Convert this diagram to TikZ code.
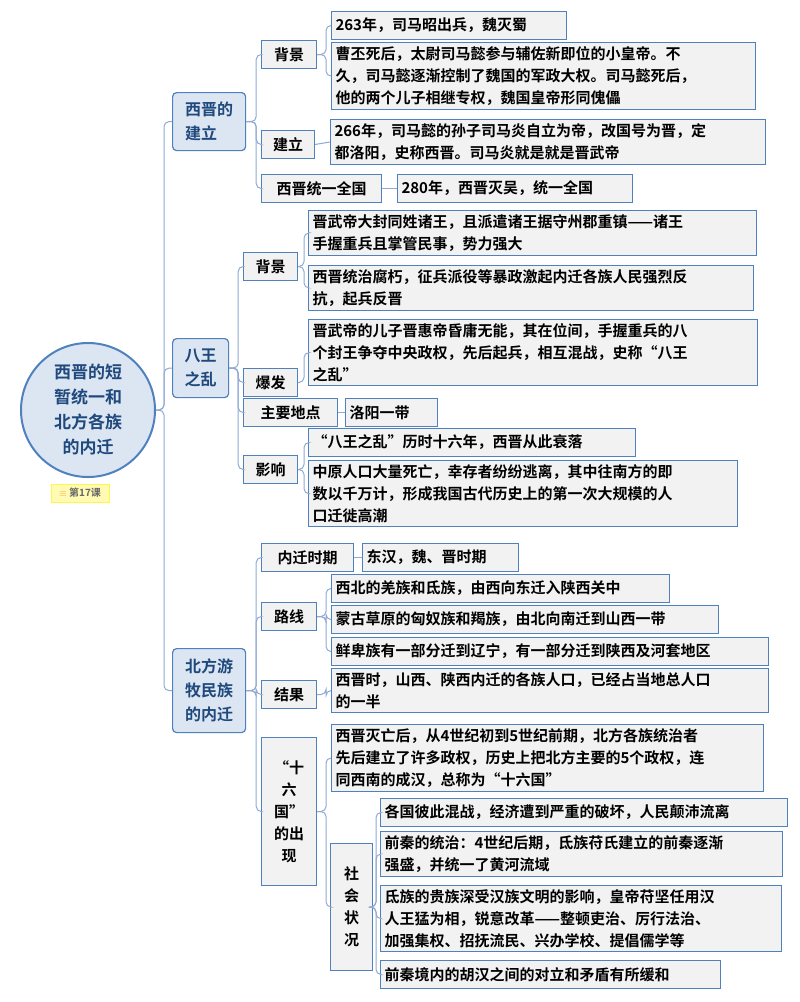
\documentclass[tikz,border=0pt]{standalone}
\usepackage{fontspec}
\setmainfont{Noto Sans CJK SC Bold}
\usetikzlibrary{positioning,shapes}
\definecolor{edgeblue}{HTML}{4F81BD}
\definecolor{linkblue}{HTML}{8FA9D3}
\definecolor{topicfill}{HTML}{DCE6F2}
\definecolor{topictext}{HTML}{1F497D}
\definecolor{leaffill}{HTML}{F2F2F2}
\begin{document}
\begin{tikzpicture}
	[ x=1pt, y=-1pt, font=\fontsize{15}{22}\selectfont,
		root/.style={circle,draw=edgeblue,line width=2pt,fill=topicfill,text=topictext,minimum size=134pt,align=center,inner sep=0pt,font=\fontsize{17}{25}\selectfont},
		main/.style={rectangle,rounded corners=4pt,draw=edgeblue,line width=1.2pt,fill=topicfill,text=topictext,anchor=north west,align=left,inner sep=4pt,font=\fontsize{16}{24}\selectfont},
		sub/.style={rectangle,draw=edgeblue,line width=1pt,fill=leaffill,anchor=north west,minimum height=28pt,align=center,inner sep=3pt},
		leaf/.style={rectangle,draw=edgeblue,line width=1pt,fill=leaffill,anchor=north west,minimum height=28pt,align=left,inner sep=4pt},
		branch/.style={draw=linkblue,line width=1pt,rounded corners=5pt}]
	\useasboundingbox (0,0) rectangle (800,1002);

	\node[root] (root) at (88,410) {西晋的短\\暂统一和\\北方各族\\的内迁};
	\node[fill=yellow!30,draw=yellow!70,font=\fontsize{10}{12}\selectfont\color{black!60},minimum width=58pt,minimum height=18pt,inner sep=2pt] (tag) at (80,493) {\textcolor{orange!80}{$\equiv$}\ 第17课};

	% main topics
	\node[main,minimum width=73pt,minimum height=58pt] (xijin) at (172,92) {西晋的\\建立};
	\node[main,minimum width=56pt,minimum height=59pt] (bawang) at (172,338) {八王\\之乱};
	\node[main,minimum width=73pt,minimum height=84pt] (beifang) at (172,648) {北方游\\牧民族\\的内迁};
	\foreach \t in {xijin,bawang,beifang}
		\draw[branch] (root.east) -- ++(8,0) |- (\t.west);

	% 西晋的建立
	\node[sub,minimum width=55pt] (xbj) at (261,40) {背景};
	\node[sub,minimum width=53pt] (xjl) at (261,130) {建立};
	\node[sub,minimum width=120pt] (xty) at (261,174) {西晋统一全国};
	\foreach \t in {xbj,xjl,xty}
		\draw[branch] (xijin.east) -- ++(10,0) |- (\t.west);
	\node[leaf,text width=227pt] (xbj1) at (331,11) {263年，司马昭出兵，魏灭蜀};
	\node[leaf,text width=416pt] (xbj2) at (331,42) {曹丕死后，太尉司马懿参与辅佐新即位的小皇帝。不\\久，司马懿逐渐控制了魏国的军政大权。司马懿死后，\\他的两个儿子相继专权，魏国皇帝形同傀儡};
	\foreach \t in {xbj1,xbj2}
		\draw[branch] (xbj.east) -- ++(9,0) |- (\t.west);
	\node[leaf,text width=427pt] (xjl1) at (330,119) {266年，司马懿的孙子司马炎自立为帝，改国号为晋，定\\都洛阳，史称西晋。司马炎就是就是晋武帝};
	\draw[branch] (xjl.east) -- (xjl1.west);
	\node[leaf,text width=227pt] (xty1) at (397,174) {280年，西晋灭吴，统一全国};
	\draw[branch] (xty.east) -- (xty1.west);

	% 八王之乱
	\node[sub,minimum width=54pt] (bbj) at (243,252) {背景};
	\node[sub,minimum width=54pt] (bbf) at (243,368) {爆发};
	\node[sub,minimum width=94pt] (bdd) at (243,398) {主要地点};
	\node[sub,minimum width=54pt] (byx) at (243,455) {影响};
	\foreach \t in {bbj,bbf,bdd,byx}
		\draw[branch] (bawang.east) -- ++(9,0) |- (\t.west);
	\node[leaf,text width=440pt] (bbj1) at (308,210) {晋武帝大封同姓诸王，且派遣诸王据守州郡重镇——诸王\\手握重兵且掌管民事，势力强大};
	\node[leaf,text width=437pt] (bbj2) at (308,265) {西晋统治腐朽，征兵派役等暴政激起内迁各族人民强烈反\\抗，起兵反晋};
	\foreach \t in {bbj1,bbj2}
		\draw[branch] (bbj.east) -- ++(6,0) |- (\t.west);
	\node[leaf,text width=441pt] (bbf1) at (308,319) {晋武帝的儿子晋惠帝昏庸无能，其在位间，手握重兵的八\\个封王争夺中央政权，先后起兵，相互混战，史称“八王\\之乱”};
	\draw[branch] (bbf.east) -- ++(6,0) |- (bbf1.west);
	\node[leaf,text width=84pt] (bdd1) at (345,398) {洛阳一带};
	\draw[branch] (bdd.east) -- (bdd1.west);
	\node[leaf,text width=319pt] (byx1) at (308,428) {“八王之乱”历时十六年，西晋从此衰落};
	\node[leaf,text width=421pt] (byx2) at (308,460) {中原人口大量死亡，幸存者纷纷逃离，其中往南方的即\\数以千万计，形成我国古代历史上的第一次大规模的人\\口迁徙高潮};
	\foreach \t in {byx1,byx2}
		\draw[branch] (byx.east) -- ++(6,0) |- (\t.west);

	% 北方游牧民族的内迁
	\node[sub,minimum width=92pt] (nsq) at (261,543) {内迁时期};
	\node[sub,minimum width=55pt] (nlx) at (261,602) {路线};
	\node[sub,minimum width=55pt] (njg) at (261,680) {结果};
	\node[sub,minimum width=55pt,minimum height=148pt] (nsl) at (261,737) {“十\\六\\国”\\的出\\现};
	\foreach \t in {nsq,nlx,njg,nsl}
		\draw[branch] (beifang.east) -- ++(10,0) |- (\t.west);
	\node[leaf,text width=148pt] (nsq1) at (362,543) {东汉，魏、晋时期};
	\draw[branch] (nsq.east) -- (nsq1.west);
	\node[leaf,text width=330pt] (nlx1) at (331,574) {西北的羌族和氐族，由西向东迁入陕西关中};
	\node[leaf,text width=379pt] (nlx2) at (331,605) {蒙古草原的匈奴族和羯族，由北向南迁到山西一带};
	\node[leaf,text width=429pt] (nlx3) at (331,637) {鲜卑族有一部分迁到辽宁，有一部分迁到陕西及河套地区};
	\foreach \t in {nlx1,nlx2,nlx3}
		\draw[branch] (nlx.east) -- ++(9,0) |- (\t.west);
	\node[leaf,text width=429pt] (njg1) at (331,668) {西晋时，山西、陕西内迁的各族人口，已经占当地总人口\\的一半};
	\draw[branch] (njg.east) -- ++(9,0) |- (njg1.west);
	\node[leaf,text width=424pt] (nsl1) at (331,724) {西晋灭亡后，从4世纪初到5世纪前期，北方各族统治者\\先后建立了许多政权，历史上把北方主要的5个政权，连\\同西南的成汉，总称为“十六国”};
	\node[sub,minimum width=42pt,minimum height=127pt] (nzk) at (330,843) {社\\会\\状\\况};
	\foreach \t in {nsl1,nzk}
		\draw[branch] (nsl.east) -- ++(9,0) |- (\t.west);
	\node[leaf,text width=399pt] (nzk1) at (380,798) {各国彼此混战，经济遭到严重的破坏，人民颠沛流离};
	\node[leaf,text width=394pt] (nzk2) at (380,831) {前秦的统治：4世纪后期，氐族苻氏建立的前秦逐渐\\强盛，并统一了黄河流域};
	\node[leaf,text width=393pt] (nzk3) at (380,885) {氐族的贵族深受汉族文明的影响，皇帝苻坚任用汉\\人王猛为相，锐意改革——整顿吏治、厉行法治、\\加强集权、招抚流民、兴办学校、提倡儒学等};
	\node[leaf,text width=332pt] (nzk4) at (380,960) {前秦境内的胡汉之间的对立和矛盾有所缓和};
	\foreach \t in {nzk1,nzk2,nzk3,nzk4}
		\draw[branch] (nzk.east) -- ++(3,0) |- (\t.west);
\end{tikzpicture}
\end{document}
